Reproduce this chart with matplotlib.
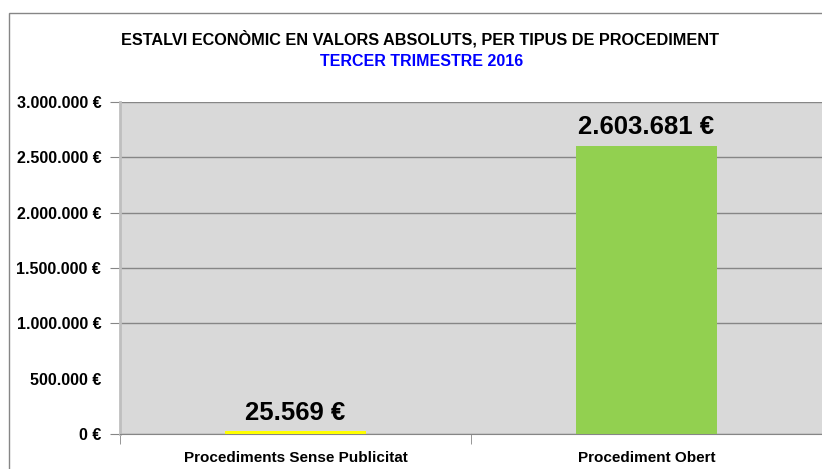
import matplotlib.pyplot as plt
from matplotlib.patches import Rectangle
from matplotlib.ticker import FuncFormatter, FixedLocator

plt.rcParams['font.family'] = ['Liberation Sans', 'DejaVu Sans']

# dades
categories = ["Procediments Sense Publicitat", "Procediment Obert"]
valors = [25569, 2603681]
colors = ["#ffff00", "#92d050"]
yticks = [0, 500000, 1000000, 1500000, 2000000, 2500000, 3000000]

def euros(v, pos=None):
    return "{:,.0f} €".format(v).replace(",", ".")

fig = plt.figure(figsize=(8.22, 4.69), dpi=100)

# marc del gràfic
fig.patches.append(Rectangle((9 / 822, -0.1), 1.2, 1.1 - 13 / 469, transform=fig.transFigure,
                             fill=False, edgecolor="#868686", linewidth=1, zorder=0))

ax = fig.add_axes([120 / 822, 1 - 434 / 469, 702 / 822, 332 / 469])
ax.set_facecolor("#d9d9d9")

x = range(len(categories))
ax.bar(x, valors, width=0.4, color=colors, zorder=3)
for i, v in enumerate(valors):
    ax.text(i, v + 60000, euros(v), ha="center", va="bottom", fontsize=18.5,
            fontweight="bold", color="#000000", zorder=4)

ax.set_xlim(-0.5, 1.5)
ax.set_ylim(0, 3000000)
ax.set_yticks(yticks)
ax.yaxis.set_major_formatter(FuncFormatter(euros))
ax.set_xticks(list(x))
ax.set_xticklabels(categories)
ax.xaxis.set_minor_locator(FixedLocator([-0.5, 0.5, 1.5]))
ax.tick_params(axis="x", which="major", length=0, pad=12, labelsize=11)
ax.tick_params(axis="x", which="minor", length=7, color="#868686")
ax.tick_params(axis="y", length=7, color="#868686", labelsize=11.5, pad=6.5)
for lab in ax.get_xticklabels() + ax.get_yticklabels():
    lab.set_fontweight("bold")

ax.grid(axis="y", color="#868686", linewidth=1, zorder=1)
ax.set_axisbelow(True)
# la línia de 500.000 no apareix a l'original
ax.yaxis.get_gridlines()[1].set_visible(False)
ax.yaxis.get_major_ticks()[1].tick1line.set_visible(False)

for s in ["top", "right"]:
    ax.spines[s].set_visible(False)
ax.spines["left"].set_color("#bfbfbf")
ax.spines["left"].set_linewidth(2)
ax.spines["bottom"].set_color("#868686")

fig.text(420 / 822, 1 - 38.5 / 469, "ESTALVI ECONÒMIC EN VALORS ABSOLUTS, PER TIPUS DE PROCEDIMENT",
         ha="center", va="center", fontsize=11.7, fontweight="bold", color="#000000")
fig.text(422 / 822, 1 - 61.5 / 469, "TERCER TRIMESTRE 2016",
         ha="center", va="center", fontsize=11.5, fontweight="bold", color="#0000ff")

fig.savefig("out.png", dpi=100)
